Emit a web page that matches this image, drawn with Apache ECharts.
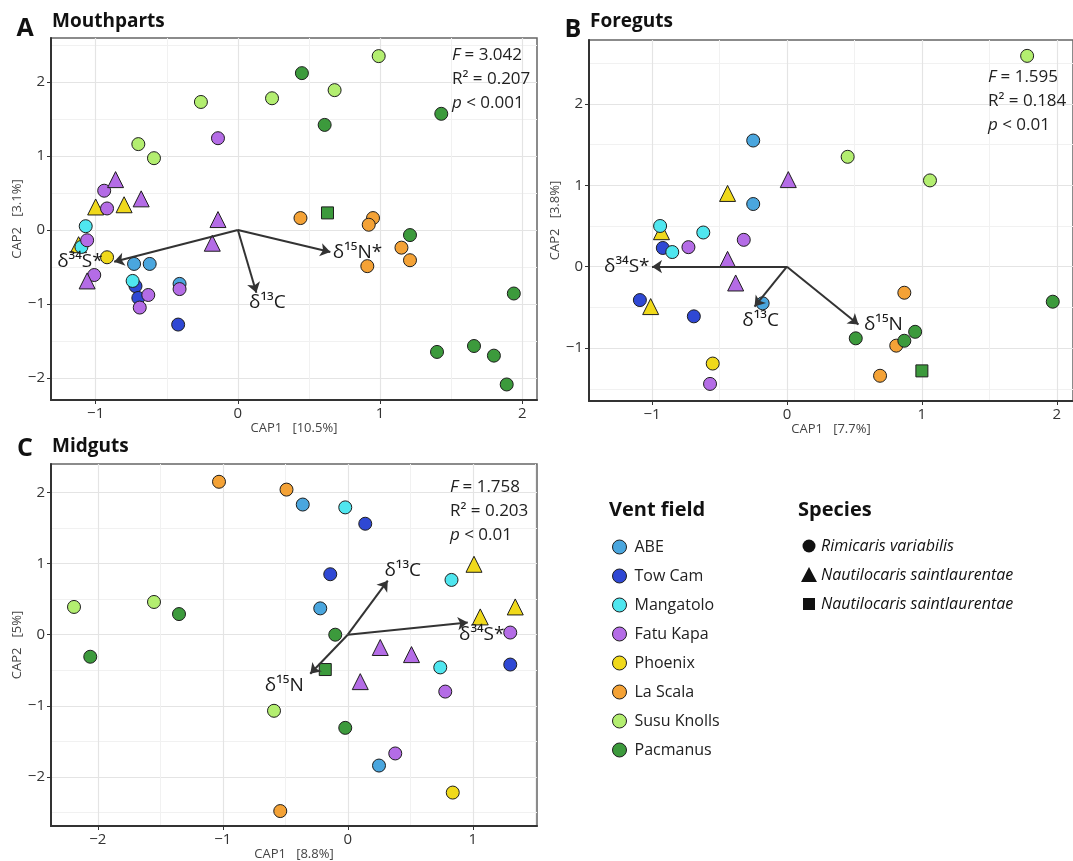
<!DOCTYPE html>
<html><head><meta charset="utf-8">
<script src="https://cdn.jsdelivr.net/npm/echarts@6/dist/echarts.min.js"></script>
<style>html,body{margin:0;padding:0;background:#fff}#chart{width:1073px;height:861px}</style>
</head><body><div id="chart"></div>
<script>
// ---------------- DATA ----------------
const ventFields = ['ABE','Tow Cam','Mangatolo','Fatu Kapa','Phoenix','La Scala','Susu Knolls','Pacmanus'];
// shape codes: c = Rimicaris variabilis (circle), t = Nautilocaris (triangle), s = Nautilocaris (square)

// Panel A – Mouthparts
const A_ABE = [[-0.73,-0.46,'c'],[-0.62,-0.46,'c'],[-0.41,-0.73,'c']];
const A_TowCam = [[-0.72,-0.76,'c'],[-0.70,-0.92,'c'],[-0.42,-1.28,'c']];
const A_Mangatolo = [[-1.07,0.05,'c'],[-1.10,-0.23,'c'],[-0.74,-0.69,'c']];
const A_FatuKapa = [[-0.14,1.24,'c'],[-0.94,0.53,'c'],[-0.92,0.29,'c'],[-1.06,-0.14,'c'],[-1.01,-0.61,'c'],[-0.63,-0.88,'c'],[-0.69,-1.05,'c'],[-0.41,-0.80,'c'],
  [-0.86,0.68,'t'],[-0.68,0.42,'t'],[-0.14,0.14,'t'],[-0.18,-0.18,'t'],[-1.06,-0.69,'t']];
const A_Phoenix = [[-1.00,0.31,'t'],[-0.80,0.34,'t'],[-1.12,-0.20,'t'],[-0.92,-0.37,'c']];
const A_LaScala = [[0.44,0.16,'c'],[0.95,0.16,'c'],[0.92,0.07,'c'],[1.15,-0.24,'c'],[1.21,-0.41,'c'],[0.91,-0.49,'c']];
const A_SusuKnolls = [[0.99,2.35,'c'],[-0.26,1.73,'c'],[0.24,1.78,'c'],[0.68,1.89,'c'],[-0.70,1.16,'c'],[-0.59,0.97,'c']];
const A_Pacmanus = [[0.45,2.12,'c'],[0.61,1.42,'c'],[1.43,1.57,'c'],[1.21,-0.07,'c'],[1.94,-0.86,'c'],[1.40,-1.65,'c'],[1.66,-1.57,'c'],[1.80,-1.70,'c'],[1.89,-2.09,'c'],[0.63,0.23,'s']];
const A_vectors = [['δ³⁴S*',-0.87,-0.43],['δ¹⁵N*',0.65,-0.30],['δ¹³C',0.13,-0.85]];
const A_stats = ['3.042','0.207','< 0.001'];
const A_xTicks = [-1,0,1,2], A_yTicks = [-2,-1,0,1,2];
const A_xRange = [-1.314,2.103], A_yRange = [-2.30,2.595];

// Panel B – Foreguts
const B_ABE = [[-0.25,1.55,'c'],[-0.25,0.77,'c'],[-0.18,-0.45,'c']];
const B_TowCam = [[-0.92,0.23,'c'],[-1.09,-0.41,'c'],[-0.69,-0.61,'c']];
const B_Mangatolo = [[-0.94,0.50,'c'],[-0.62,0.42,'c'],[-0.85,0.18,'c']];
const B_FatuKapa = [[-0.73,0.24,'c'],[-0.32,0.33,'c'],[-0.57,-1.44,'c'],[0.01,1.07,'t'],[-0.44,0.09,'t'],[-0.38,-0.20,'t']];
const B_Phoenix = [[-0.44,0.90,'t'],[-0.93,0.43,'t'],[-1.01,-0.49,'t'],[-0.55,-1.19,'c']];
const B_LaScala = [[0.87,-0.32,'c'],[0.81,-0.97,'c'],[0.69,-1.34,'c']];
const B_SusuKnolls = [[1.78,2.59,'c'],[0.45,1.35,'c'],[1.06,1.06,'c']];
const B_Pacmanus = [[1.97,-0.43,'c'],[0.51,-0.88,'c'],[0.95,-0.80,'c'],[0.87,-0.91,'c'],[1.00,-1.28,'s']];
const B_vectors = [['δ³⁴S*',-1.00,0.0],['δ¹³C',-0.24,-0.49],['δ¹⁵N',0.53,-0.71]];
const B_stats = ['1.595','0.184','< 0.01'];
const B_xTicks = [-1,0,1,2], B_yTicks = [-1,0,1,2];
const B_xRange = [-1.467,2.12], B_yRange = [-1.65,2.785];

// Panel C – Midguts
const C_ABE = [[-0.36,1.83,'c'],[-0.22,0.37,'c'],[0.25,-1.84,'c']];
const C_TowCam = [[0.14,1.56,'c'],[-0.14,0.85,'c'],[1.30,-0.42,'c']];
const C_Mangatolo = [[-0.02,1.79,'c'],[0.83,0.77,'c'],[0.74,-0.46,'c']];
const C_FatuKapa = [[1.30,0.03,'c'],[0.78,-0.80,'c'],[0.38,-1.67,'c'],[0.26,-0.18,'t'],[0.51,-0.28,'t'],[0.10,-0.66,'t']];
const C_Phoenix = [[1.01,0.99,'t'],[1.34,0.39,'t'],[1.06,0.25,'t'],[0.84,-2.22,'c']];
const C_LaScala = [[-1.03,2.15,'c'],[-0.49,2.04,'c'],[-0.54,-2.48,'c']];
const C_SusuKnolls = [[-2.19,0.39,'c'],[-1.55,0.46,'c'],[-0.59,-1.07,'c']];
const C_Pacmanus = [[-1.35,0.29,'c'],[-2.06,-0.31,'c'],[-0.10,0.00,'c'],[-0.02,-1.31,'c'],[-0.18,-0.49,'s']];
const C_vectors = [['δ¹³C',0.32,0.76],['δ³⁴S*',0.96,0.17],['δ¹⁵N',-0.30,-0.55]];
const C_stats = ['1.758','0.203','< 0.01'];
const C_xTicks = [-2,-1,0,1], C_yTicks = [-2,-1,0,1,2];
const C_xRange = [-2.374,1.514], C_yRange = [-2.69,2.40];

// ---------------- STYLE / LAYOUT ----------------
const FONT = "'Open Sans','Noto Sans',sans-serif";
const ventColors = {'ABE':'#4aa6de','Tow Cam':'#2f48d4','Mangatolo':'#4fe6ef','Fatu Kapa':'#b46ce6','Phoenix':'#f0d91b','La Scala':'#f4a236','Susu Knolls':'#b3ee70','Pacmanus':'#3c9a3c'};
const shapeSymbol = {c:'circle', t:'triangle', s:'rect'};
const shapeSize = {c:13, t:16, s:12};

const panels = [
  {key:'A', title:'Mouthparts', grid:{left:51, top:38, width:486, height:362},
   data:{'ABE':A_ABE,'Tow Cam':A_TowCam,'Mangatolo':A_Mangatolo,'Fatu Kapa':A_FatuKapa,'Phoenix':A_Phoenix,'La Scala':A_LaScala,'Susu Knolls':A_SusuKnolls,'Pacmanus':A_Pacmanus},
   vectors:A_vectors, stats:A_stats, xTicks:A_xTicks, yTicks:A_yTicks, xRange:A_xRange, yRange:A_yRange,
   xName:'CAP1   [10.5%]', yName:'CAP2   [3.1%]', yNameGap:26,
   letterPos:[25,29], titlePos:[52,22], statsPos:[452,43],
   vecLabel:[{position:'left',distance:11},{position:'right',distance:2},{position:'bottom',distance:0,offset:[11,0]}]},
  {key:'B', title:'Foreguts', grid:{left:589, top:40, width:484, height:361},
   data:{'ABE':B_ABE,'Tow Cam':B_TowCam,'Mangatolo':B_Mangatolo,'Fatu Kapa':B_FatuKapa,'Phoenix':B_Phoenix,'La Scala':B_LaScala,'Susu Knolls':B_SusuKnolls,'Pacmanus':B_Pacmanus},
   vectors:B_vectors, stats:B_stats, xTicks:B_xTicks, yTicks:B_yTicks, xRange:B_xRange, yRange:B_yRange,
   xName:'CAP1   [7.7%]', yName:'CAP2   [3.8%]', yNameGap:22,
   letterPos:[573,30], titlePos:[590,22], statsPos:[988,65],
   vecLabel:[{position:'left',distance:2},{position:'bottom',distance:4,offset:[6,0]},{position:'right',distance:5}]},
  {key:'C', title:'Midguts', grid:{left:51, top:464, width:486, height:362},
   data:{'ABE':C_ABE,'Tow Cam':C_TowCam,'Mangatolo':C_Mangatolo,'Fatu Kapa':C_FatuKapa,'Phoenix':C_Phoenix,'La Scala':C_LaScala,'Susu Knolls':C_SusuKnolls,'Pacmanus':C_Pacmanus},
   vectors:C_vectors, stats:C_stats, xTicks:C_xTicks, yTicks:C_yTicks, xRange:C_xRange, yRange:C_yRange,
   xName:'CAP1   [8.8%]', yName:'CAP2   [5%]', yNameGap:25,
   letterPos:[25,449], titlePos:[52,447], statsPos:[450,475],
   vecLabel:[{position:'top',distance:0,offset:[15,0]},{position:'bottom',distance:2,offset:[14,0]},{position:'bottom',distance:2,offset:[-26,0]}]}
];
const drawOrder = ['Phoenix','ABE','Tow Cam','Mangatolo','Fatu Kapa','La Scala','Susu Knolls','Pacmanus'];

const halves = [-2.5,-1.5,-0.5,0.5,1.5,2.5];
const fmt = v => (v < 0 ? '\u2212' + Math.abs(v) : String(v));

const grids = [], xAxes = [], yAxes = [], series = [], graphics = [];
panels.forEach((p, g) => {
  grids.push(Object.assign({show:true, borderColor:'#666', borderWidth:1.5, backgroundColor:'#fff', containLabel:false, outerBoundsMode:'none'}, p.grid));
  const common = (range, ticks) => ({
    type:'value', gridIndex:g, min:range[0], max:range[1],
    axisLine:{show:true, onZero:false, lineStyle:{color:'#333', width:2}},
    axisTick:{show:true, customValues:ticks, length:4, lineStyle:{color:'#333', width:1}},
    axisLabel:{customValues:ticks, formatter:fmt, color:'#333', fontSize:15, fontFamily:FONT, margin:6},
    splitLine:{show:true, lineStyle:{color:'#e4e4e4', width:1.2}},
    minorSplitLine:{show:false}
  });
  const minor = (range, pos) => ({
    type:'value', gridIndex:g, min:range[0], max:range[1], position:pos,
    axisLine:{show:false}, axisTick:{show:false, customValues:halves},
    axisLabel:{show:false, customValues:halves},
    splitLine:{show:true, lineStyle:{color:'#f1f1f1', width:1}}
  });
  xAxes.push(Object.assign(common(p.xRange, p.xTicks), {position:'bottom', name:p.xName, nameLocation:'middle', nameGap:5,
    nameTextStyle:{color:'#444', fontSize:13, fontFamily:FONT, verticalAlign:'top'}}));
  xAxes.push(minor(p.xRange, 'top'));
  yAxes.push(Object.assign(common(p.yRange, p.yTicks), {position:'left', name:p.yName, nameLocation:'middle', nameGap:p.yNameGap,
    nameTextStyle:{color:'#444', fontSize:13, fontFamily:FONT}}));
  yAxes.push(minor(p.yRange, 'right'));

  drawOrder.forEach(vf => {
    series.push({
      type:'scatter', name:vf, xAxisIndex:2*g, yAxisIndex:2*g,
      data:p.data[vf].map(d => ({value:[d[0], d[1]], symbol:shapeSymbol[d[2]], symbolSize:shapeSize[d[2]]})),
      itemStyle:{color:ventColors[vf], borderColor:'#1e1e1e', borderWidth:1, opacity:1},
      emphasis:{disabled:true}, z:3
    });
  });
  series.push({
    type:'scatter', name:'vectors'+p.key, xAxisIndex:2*g, yAxisIndex:2*g, symbolSize:1,
    itemStyle:{color:'rgba(0,0,0,0)'},
    data:p.vectors.map((v, i) => ({name:v[0], value:[v[1], v[2]], label:p.vecLabel[i]})),
    label:{show:true, formatter:'{b}', color:'#1a1a1a', opacity:1, fontSize:19, fontFamily:FONT},
    emphasis:{disabled:true}, z:4,
    markLine:{silent:true, symbol:['none','arrow'], symbolSize:10, animation:false,
      lineStyle:{color:'#333', width:2, type:'solid', opacity:1}, label:{show:false},
      data:p.vectors.map(v => [{coord:[0,0], symbol:'none'}, {coord:[v[1], v[2]], symbol:'arrow', symbolSize:10}])}
  });

  graphics.push({type:'text', x:p.letterPos[0], y:p.letterPos[1], style:{text:p.key, font:'bold 25px ' + FONT, fill:'#111', align:'center', verticalAlign:'middle'}});
  graphics.push({type:'text', x:p.titlePos[0], y:p.titlePos[1], style:{text:p.title, font:'bold 19px ' + FONT, fill:'#111', verticalAlign:'middle'}});
  graphics.push({type:'text', x:p.statsPos[0], y:p.statsPos[1], z:10, style:{
    text:'{i|F} = ' + p.stats[0] + '\nR² = ' + p.stats[1] + '\n{i|p} ' + p.stats[2],
    rich:{i:{fontStyle:'italic', fontSize:17, fontFamily:FONT, lineHeight:24, fill:'#222'}},
    fontSize:17, fontFamily:FONT, lineHeight:24, fill:'#222'}});
});

// Legend headers & species key
graphics.push({type:'text', x:609, y:510, style:{text:'Vent field', font:'bold 20px ' + FONT, fill:'#111', verticalAlign:'middle'}});
graphics.push({type:'text', x:798, y:510, style:{text:'Species', font:'bold 20px ' + FONT, fill:'#111', verticalAlign:'middle'}});
const speciesKey = ['Rimicaris variabilis','Nautilocaris saintlaurentae','Nautilocaris saintlaurentae'];
graphics.push({type:'circle', shape:{cx:809, cy:546, r:6.5}, style:{fill:'#111'}});
graphics.push({type:'polygon', shape:{points:[[801,582],[817,582],[809,567]]}, style:{fill:'#111'}});
graphics.push({type:'rect', shape:{x:803, y:598, width:12, height:12}, style:{fill:'#111'}});
speciesKey.forEach((s, i) => graphics.push({type:'text', x:821, y:546 + i*29, style:{text:s, font:'italic 16px ' + FONT, fill:'#111', verticalAlign:'middle'}}));

const chart = echarts.init(document.getElementById('chart'), null, {renderer:'canvas'});
chart.setOption({
  animation:false, backgroundColor:'#fff',
  grid:grids, xAxis:xAxes, yAxis:yAxes, series:series, graphic:graphics,
  legend:{data:ventFields, orient:'vertical', left:612, top:539, padding:0, itemWidth:14, itemHeight:14, itemGap:13,
    icon:'circle', selectedMode:false, itemStyle:{borderColor:'#1e1e1e', borderWidth:1},
    textStyle:{fontSize:16, color:'#222', fontFamily:FONT, padding:[0,0,0,3]}}
});
</script></body></html>
